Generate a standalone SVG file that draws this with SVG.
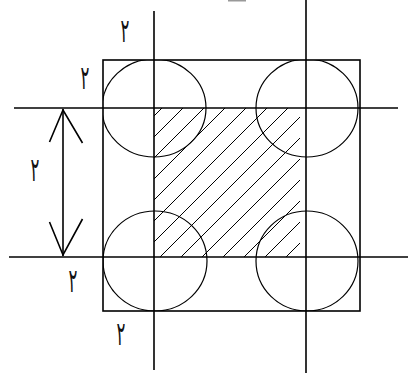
<svg xmlns="http://www.w3.org/2000/svg" width="408" height="379" viewBox="0 0 408 379">
<style>
.ln{stroke:#000;stroke-width:1.6;fill:none}
.cir{stroke:#000;stroke-width:1.2;fill:none}
.hat{stroke:#000;stroke-width:1}
.lbl{font-family:"DejaVu Sans",sans-serif;font-size:22px;fill:#111;text-anchor:middle}
</style>
<defs>
<clipPath id="sq"><rect x="154" y="108" width="152" height="149"/></clipPath>
<clipPath id="box"><rect x="103" y="60" width="257" height="251"/></clipPath>
</defs>
<rect width="408" height="379" fill="#fff"/>
<rect x="228" y="0" width="18" height="1.5" fill="#999"/>
<g id="hatching" clip-path="url(#sq)" class="hat">
<line x1="100" y1="170" x2="300" y2="-30"/>
<line x1="100" y1="191" x2="300" y2="-9"/>
<line x1="100" y1="212" x2="300" y2="12"/>
<line x1="100" y1="233" x2="300" y2="33"/>
<line x1="100" y1="254" x2="300" y2="54"/>
<line x1="100" y1="275" x2="300" y2="75"/>
<line x1="100" y1="296" x2="300" y2="96"/>
<line x1="100" y1="317" x2="300" y2="117"/>
<line x1="100" y1="338" x2="300" y2="138"/>
<line x1="100" y1="359" x2="300" y2="159"/>
<line x1="100" y1="380" x2="300" y2="180"/>
<line x1="100" y1="401" x2="300" y2="201"/>
<line x1="100" y1="422" x2="300" y2="222"/>
<line x1="100" y1="443" x2="300" y2="243"/>
</g>
<g id="frame">
<rect x="103" y="60" width="257" height="251" class="ln"/>
</g>
<g id="circles" clip-path="url(#box)">
<ellipse id="c-tl" cx="154" cy="108" rx="52" ry="49" class="cir"/>
<ellipse id="c-tr" cx="307" cy="108" rx="51" ry="49" class="cir"/>
<ellipse id="c-bl" cx="155" cy="261" rx="52" ry="50" class="cir"/>
<ellipse id="c-br" cx="307" cy="261" rx="51" ry="50" class="cir"/>
</g>
<g id="axes">
<line x1="154" y1="11" x2="154" y2="370" class="ln"/>
<line x1="306" y1="0" x2="306" y2="373" class="ln"/>
<line x1="14" y1="108" x2="398" y2="108" class="ln"/>
<line x1="9" y1="257" x2="408" y2="257" class="ln"/>
</g>
<g id="dimension">
<line x1="63" y1="109" x2="63" y2="256" class="ln"/>
<polyline points="49.5,142 63,110 82.5,143" class="ln"/>
<polyline points="49.5,222 63,255 82.5,219" class="ln"/>
</g>
<g id="labels">
<text transform="translate(125,42) scale(0.75,1.5)" class="lbl">٢</text>
<text transform="translate(85,89) scale(0.75,1.5)" class="lbl">٢</text>
<text transform="translate(35,181) scale(0.75,1.5)" class="lbl">٢</text>
<text transform="translate(73,292) scale(0.75,1.5)" class="lbl">٢</text>
<text transform="translate(121,345) scale(0.75,1.5)" class="lbl">٢</text>
</g>
</svg>
